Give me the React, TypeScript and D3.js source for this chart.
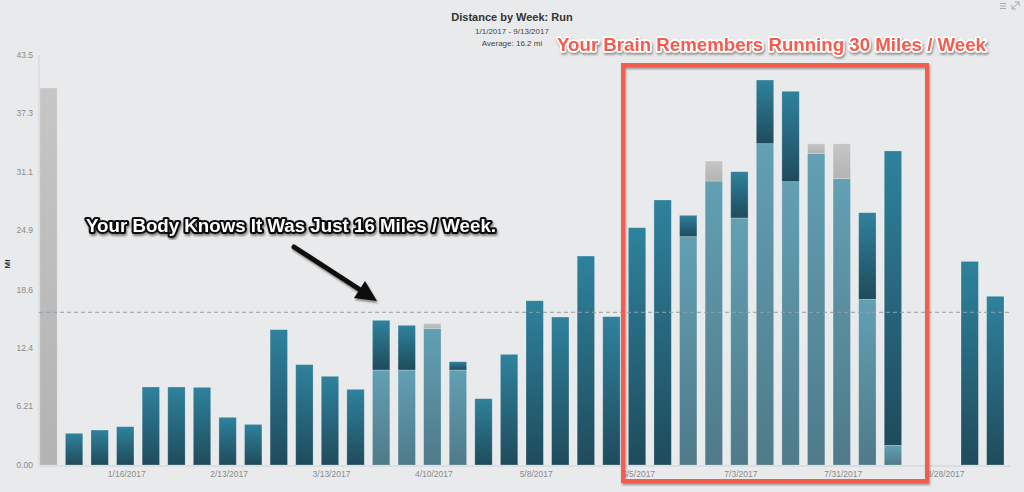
import React from "react";
import * as d3 from "d3";

const weeks = [
  "12/26/2016", "1/2/2017", "1/9/2017", "1/16/2017", "1/23/2017", "1/30/2017", "2/6/2017", "2/13/2017",
  "2/20/2017", "2/27/2017", "3/6/2017", "3/13/2017", "3/20/2017", "3/27/2017", "4/3/2017", "4/10/2017",
  "4/17/2017", "4/24/2017", "5/1/2017", "5/8/2017", "5/15/2017", "5/22/2017", "5/29/2017", "6/5/2017",
  "6/12/2017", "6/19/2017", "6/26/2017", "7/3/2017", "7/10/2017", "7/17/2017", "7/24/2017", "7/31/2017",
  "8/7/2017", "8/14/2017", "8/21/2017", "8/28/2017", "9/4/2017", "9/11/2017",
];
// bottom (light) segment
const lightMiles = [
  0, 0, 0, 0, 0, 0, 0, 0, 0, 0, 0, 0, 0, 10.08, 10.08, 14.5, 10.08, 0, 0, 0, 0, 0, 0, 0, 0,
  24.23, 30.13, 26.21, 34.09, 30.06, 33.07, 30.38, 17.58, 2.08, 0, 0, 0, 0,
];
// dark teal segment
const darkMiles = [
  0, 3.36, 3.71, 4.07, 8.28, 8.28, 8.24, 5.06, 4.31, 14.36, 10.65, 9.41, 8.03, 5.27, 4.74, 0, 0.88,
  7.04, 11.74, 17.43, 15.7, 22.17, 15.74, 25.18, 28.12, 2.26, 0, 4.91, 6.76, 9.59, 0, 0, 9.19, 31.24,
  0, 0, 21.6, 17.9,
];
// grey segment
const greyMiles = [
  40.0, 0, 0, 0, 0, 0, 0, 0, 0, 0, 0, 0, 0, 0, 0, 0.53, 0, 0, 0, 0, 0, 0, 0, 0, 0, 0, 2.12, 0, 0, 0,
  1.02, 3.71, 0, 0, 0, 0, 0, 0,
];
const yTicks = [0, 6.21, 12.4, 18.6, 24.9, 31.1, 37.3, 43.5];
const yTickLabels = ["0.00", "6.21", "12.4", "18.6", "24.9", "31.1", "37.3", "43.5"];
const xTickLabels = [
  "1/16/2017", "2/13/2017", "3/13/2017", "4/10/2017", "5/8/2017", "6/5/2017", "7/3/2017", "7/31/2017", "8/28/2017",
];
const averageMiles = 16.2;
const yMax = 43.5;
const keys = ["light", "dark", "grey"];

export default function App() {
  const W = 1024;
  const H = 492;
  const x = d3
    .scaleBand<string>()
    .domain(weeks)
    .range([35.7, 1008.1])
    .paddingInner(0.32)
    .paddingOuter(0.16);
  const y = d3.scaleLinear().domain([0, yMax]).range([465, 55]);
  const rows = weeks.map((w, i) => ({
    week: w,
    light: lightMiles[i],
    dark: darkMiles[i],
    grey: greyMiles[i],
  }));
  const series = d3.stack<any>().keys(keys)(rows);
  const bw = x.bandwidth();
  const font = "'Liberation Sans', Arial, Helvetica, sans-serif";

  return (
    <svg
      width={W}
      height={H}
      style={{ position: "absolute", left: 0, top: 0, display: "block" }}
      fontFamily={font}
    >
      <defs>
        <linearGradient id="g-light" x1="0" y1="0" x2="0" y2="1">
          <stop offset="0" stopColor="#62a0b4" />
          <stop offset="1" stopColor="#4f7a89" />
        </linearGradient>
        <linearGradient id="g-dark" x1="0" y1="0" x2="0" y2="1">
          <stop offset="0" stopColor="#2f829d" />
          <stop offset="1" stopColor="#1f4b5c" />
        </linearGradient>
        <linearGradient id="g-grey" x1="0" y1="0" x2="0" y2="1">
          <stop offset="0" stopColor="#c6c6c6" />
          <stop offset="1" stopColor="#b3b3b3" />
        </linearGradient>
        <filter id="shadow" x="-10%" y="-10%" width="120%" height="130%">
          <feDropShadow dx="1" dy="2" stdDeviation="1.2" floodColor="#000" floodOpacity="0.45" />
        </filter>
        <filter id="shadowSoft" x="-10%" y="-30%" width="120%" height="160%">
          <feDropShadow dx="1" dy="2" stdDeviation="1" floodColor="#555" floodOpacity="0.6" />
        </filter>
      </defs>
      <rect x={0} y={0} width={W} height={H} fill="#e9eaec" />

      {/* title */}
      <text x={512} y={21} textAnchor="middle" fontSize={11} fontWeight="bold" fill="#333">
        Distance by Week: Run
      </text>
      <text x={512} y={34} textAnchor="middle" fontSize={8} fill="#444">
        1/1/2017 - 9/13/2017
      </text>
      <text x={512} y={46} textAnchor="middle" fontSize={8} fill="#444">
        Average: 16.2 mi
      </text>

      {/* top-right icons */}
      <g stroke="#aaa" strokeWidth={1}>
        <line x1={1000} y1={3.5} x2={1006} y2={3.5} />
        <line x1={1000} y1={6} x2={1006} y2={6} />
        <line x1={1000} y1={8.5} x2={1006} y2={8.5} />
        <line x1={1012} y1={9} x2={1019} y2={2} />
        <polyline points="1015,2 1019,2 1019,6" fill="none" />
        <polyline points="1012,5 1012,9 1016,9" fill="none" />
      </g>

      {/* axes lines */}
      <line x1={39} y1={y(yMax)} x2={39} y2={y(0) + 1} stroke="#d2d3d5" />
      <line x1={39} y1={y(0) + 1} x2={1010} y2={y(0) + 1} stroke="#cfd0d2" />

      {/* y ticks */}
      {yTicks.map((t, i) => (
        <text key={t} x={33} y={y(t) + 3} textAnchor="end" fontSize={8.5} fill="#8a8a8a">
          {yTickLabels[i]}
        </text>
      ))}
      <text
        transform={`translate(10,${(y(0) + y(yMax)) / 2 + 4}) rotate(-90)`}
        textAnchor="middle"
        fontSize={8}
        fontWeight="bold"
        fill="#333"
      >
        MI
      </text>

      {/* bars */}
      {series.map((s) => (
        <g key={s.key}>
          {s.map((d, i) =>
            d[1] - d[0] > 0 ? (
              <rect
                key={i}
                x={x(weeks[i])}
                y={y(d[1])}
                width={bw}
                height={y(d[0]) - y(d[1])}
                fill={`url(#g-${s.key})`}
                stroke="#ffffff"
                strokeOpacity={0.3}
                strokeWidth={0.8}
              />
            ) : null
          )}
        </g>
      ))}

      {/* average line */}
      <line
        x1={39}
        x2={1010}
        y1={y(averageMiles)}
        y2={y(averageMiles)}
        stroke="#8fa2ab"
        strokeWidth={1}
        strokeDasharray="4,3"
      />

      {/* x tick labels */}
      {xTickLabels.map((l) => (
        <text
          key={l}
          x={(x(l) ?? 0) + bw / 2 + 1.5}
          y={477}
          textAnchor="middle"
          fontSize={8.5}
          fill="#8a8a8a"
        >
          {l}
        </text>
      ))}

      {/* annotation: red box */}
      <rect
        x={623}
        y={65}
        width={304}
        height={416}
        fill="none"
        stroke="#f45b4d"
        strokeWidth={4}
        filter="url(#shadowSoft)"
      />
      <text
        x={557}
        y={51}
        fontSize={19}
        fontWeight="bold"
        fill="#f45b4d"
        stroke="#ffffff"
        strokeWidth={3.5}
        strokeLinejoin="round"
        paintOrder="stroke"
        textLength={429}
        lengthAdjust="spacingAndGlyphs"
        filter="url(#shadowSoft)"
      >
        Your Brain Remembers Running 30 Miles / Week
      </text>

      {/* annotation: body text + arrow */}
      <text
        x={86}
        y={232}
        fontSize={17.5}
        fontWeight="bold"
        fill="#ffffff"
        stroke="#111"
        strokeWidth={4}
        strokeLinejoin="round"
        paintOrder="stroke"
        textLength={410}
        lengthAdjust="spacingAndGlyphs"
        filter="url(#shadow)"
      >
        Your Body Knows It Was Just 16 Miles / Week.
      </text>
      <g filter="url(#shadow)">
        <line x1={294} y1={247} x2={362} y2={291} stroke="#111" strokeWidth={5} strokeLinecap="round" />
        <polygon points="377,301 354,298 365,281" fill="#111" />
      </g>
    </svg>
  );
}
